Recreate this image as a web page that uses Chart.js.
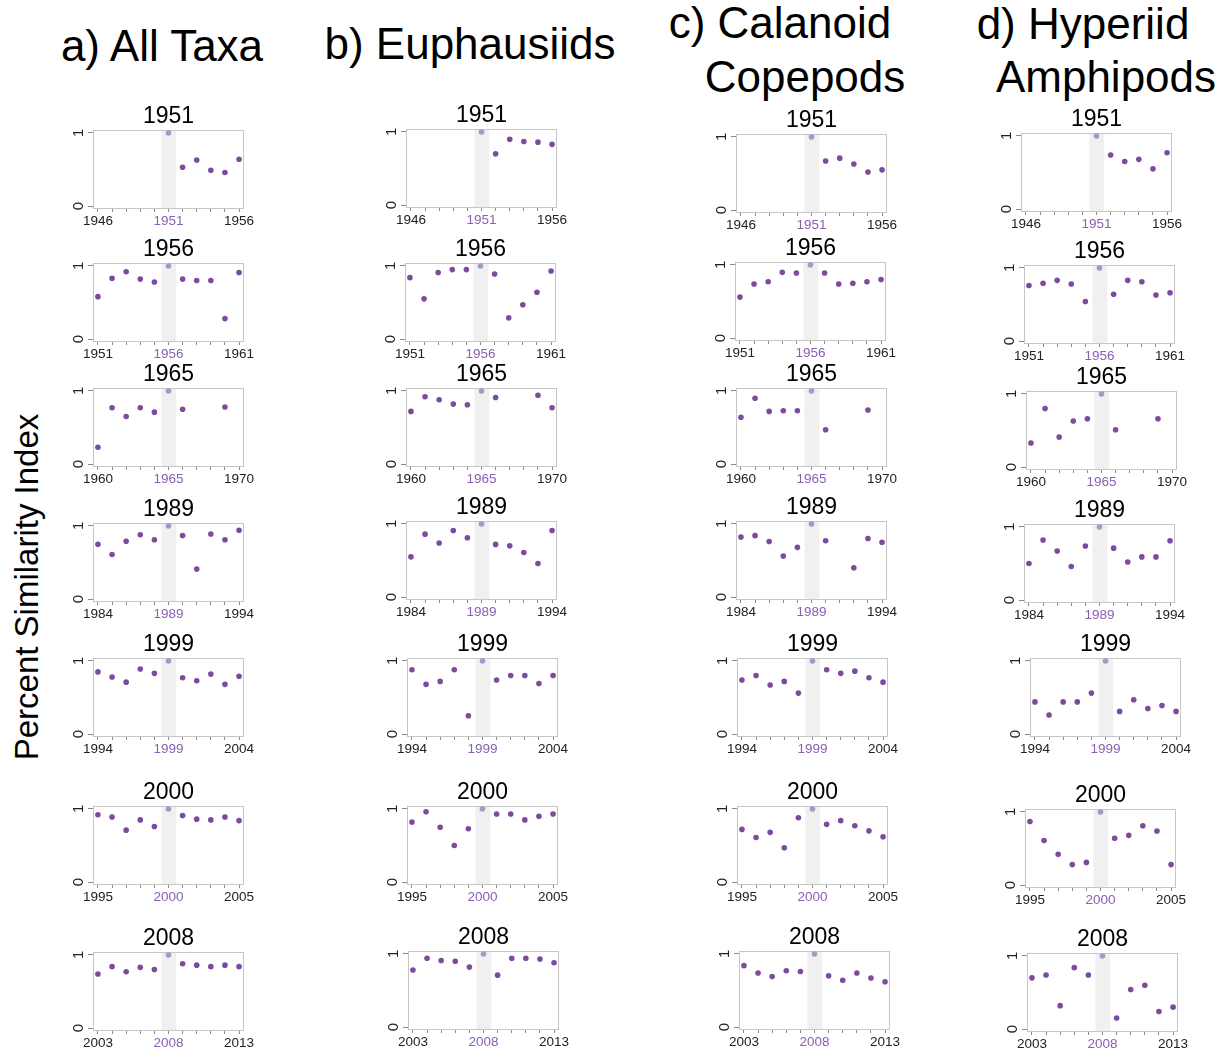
<!DOCTYPE html>
<html>
<head>
<meta charset="utf-8">
<script src="https://cdn.jsdelivr.net/npm/chart.js@4/dist/chart.umd.min.js"></script>
<style>
  body { margin: 0; background: #fff; font-family: "Liberation Sans", Arial, sans-serif; }
  #page { position: relative; width: 1228px; height: 1055px; overflow: hidden; }
  .head { position: absolute; font-size: 44px; line-height: 44px; color: #000; white-space: nowrap; transform: translateX(-50%); }
  #ylab { position: absolute; left: 27px; top: 587px; font-size: 33px; white-space: nowrap; transform: translate(-50%, -50%) rotate(-90deg); }
  canvas { position: absolute; }
</style>
</head>
<body>
<div id="page">
  <div class="head" style="left:162px; top:24px">a) All Taxa</div>
  <div class="head" style="left:470px; top:22px">b) Euphausiids</div>
  <div class="head" style="left:780px; top:1px">c) Calanoid</div>
  <div class="head" style="left:805px; top:55px">Copepods</div>
  <div class="head" style="left:1083px; top:2px">d) Hyperiid</div>
  <div class="head" style="left:1106px; top:55px">Amphipods</div>
  <div id="ylab">Percent Similarity Index</div>
</div>
<script>
// reference years (one row of panels each), every panel covers year-5 .. year+5
const refYears = [1951, 1956, 1965, 1989, 1999, 2000, 2008];
const offsets = [-5, -4, -3, -2, -1, 0, 1, 2, 3, 4, 5];
const n = null;

const allTaxa = [
  [n, n, n, n, n, 1, 0.53, 0.63, 0.49, 0.46, 0.64],
  [0.58, 0.83, 0.92, 0.82, 0.78, 1, 0.82, 0.80, 0.80, 0.28, 0.91],
  [0.23, 0.77, 0.65, 0.77, 0.71, 1, 0.75, n, n, 0.78, n],
  [0.75, 0.61, 0.79, 0.88, 0.81, 1, 0.87, 0.41, 0.89, 0.81, 0.94],
  [0.85, 0.78, 0.71, 0.89, 0.83, 1, 0.77, 0.73, 0.82, 0.68, 0.79],
  [0.92, 0.89, 0.71, 0.85, 0.76, 1, 0.91, 0.86, 0.85, 0.89, 0.84],
  [0.74, 0.84, 0.77, 0.83, 0.80, 1, 0.88, 0.86, 0.84, 0.86, 0.84]
];
const euphausiids = [
  [n, n, n, n, n, 1, 0.70, 0.90, 0.87, 0.86, 0.83],
  [0.84, 0.55, 0.91, 0.95, 0.95, 1, 0.89, 0.29, 0.47, 0.64, 0.93],
  [0.72, 0.92, 0.88, 0.82, 0.81, 1, 0.91, n, n, 0.94, 0.77],
  [0.55, 0.86, 0.74, 0.91, 0.81, 1, 0.72, 0.70, 0.61, 0.46, 0.91],
  [0.88, 0.68, 0.72, 0.88, 0.25, 1, 0.74, 0.80, 0.80, 0.69, 0.80],
  [0.82, 0.96, 0.75, 0.50, 0.73, 1, 0.93, 0.93, 0.85, 0.90, 0.93],
  [0.78, 0.94, 0.91, 0.90, 0.82, 1, 0.71, 0.94, 0.94, 0.93, 0.88]
];
const calanoids = [
  [n, n, n, n, n, 1, 0.67, 0.71, 0.63, 0.52, 0.55],
  [0.56, 0.74, 0.77, 0.90, 0.89, 1, 0.89, 0.74, 0.75, 0.77, 0.80],
  [0.64, 0.90, 0.72, 0.73, 0.73, 1, 0.47, n, n, 0.74, n],
  [0.82, 0.84, 0.76, 0.56, 0.68, 1, 0.77, n, 0.40, 0.80, 0.75],
  [0.74, 0.80, 0.67, 0.72, 0.56, 1, 0.88, 0.83, 0.86, 0.77, 0.71],
  [0.72, 0.61, 0.68, 0.47, 0.88, 1, 0.79, 0.84, 0.77, 0.70, 0.62],
  [0.84, 0.74, 0.69, 0.77, 0.76, 1, 0.70, 0.64, 0.74, 0.67, 0.62]
];
const hyperiids = [
  [n, n, n, n, n, 1, 0.74, 0.65, 0.68, 0.55, 0.77],
  [0.76, 0.79, 0.83, 0.78, 0.54, 1, 0.64, 0.83, 0.81, 0.63, 0.66],
  [0.33, 0.80, 0.41, 0.63, 0.66, 1, 0.51, n, n, 0.66, n],
  [0.50, 0.82, 0.67, 0.46, 0.74, 1, 0.71, 0.52, 0.59, 0.59, 0.81],
  [0.44, 0.26, 0.44, 0.44, 0.56, 1, 0.31, 0.47, 0.35, 0.39, 0.31],
  [0.87, 0.61, 0.42, 0.28, 0.31, 1, 0.64, 0.68, 0.81, 0.74, 0.28],
  [0.70, 0.74, 0.32, 0.84, 0.74, 1, 0.15, 0.54, 0.60, 0.24, 0.30]
];
const columns = [allTaxa, euphausiids, calanoids, hyperiids];

// layout: pixel x of first year tick, pixel y of the "1" tick
const firstTickX = [
  [98, 98, 98, 98, 98, 98, 98],
  [411, 410, 411, 411, 412, 412, 413],
  [741, 740, 741, 741, 742, 742, 744],
  [1026, 1029, 1031, 1029, 1035, 1030, 1032]
];
const oneTickY = [
  [133, 266, 391, 526, 661, 809, 955],
  [132, 266, 391, 524, 661, 809, 954],
  [137, 265, 391, 524, 661, 809, 954],
  [136, 268, 394, 527, 661, 812, 956]
];

const DOT = '#7b4b9e';
const DOT_REF = '#a896c6';
const REF_LABEL = '#8b5fb3';
const FONT = '"Liberation Sans", Arial, sans-serif';
const BOX_W = 151, BOX_H = 79, XPAD = 0.35, YPAD = 0.04;
const ML = 30, MR = 30, MT = 33, MB = 24;

const panelDeco = {
  id: 'panelDeco',
  beforeDatasetsDraw(chart) {
    const { ctx, chartArea: a, scales } = chart;
    const c = chart.options.refYear;
    const x1 = scales.x.getPixelForValue(c - 0.5);
    const x2 = scales.x.getPixelForValue(c + 0.55);
    ctx.save();
    ctx.fillStyle = '#f0f0f0';
    ctx.fillRect(x1, a.top, x2 - x1, a.bottom - a.top);
    ctx.strokeStyle = '#c6c6c6';
    ctx.lineWidth = 1;
    ctx.strokeRect(Math.round(a.left) + 0.5, Math.round(a.top) + 0.5,
      Math.round(a.right - a.left) - 1, Math.round(a.bottom - a.top) - 1);
    ctx.restore();
  },
  afterDraw(chart) {
    const { ctx, chartArea: a, scales } = chart;
    ctx.save();
    ctx.fillStyle = '#222';
    ctx.font = '15px ' + FONT;
    ctx.textAlign = 'center';
    ctx.textBaseline = 'middle';
    [0, 1].forEach(v => {
      ctx.save();
      ctx.translate(a.left - 14, scales.y.getPixelForValue(v));
      ctx.rotate(-Math.PI / 2);
      ctx.fillText(String(v), 0, 0);
      ctx.restore();
    });
    ctx.restore();
  }
};

const page = document.getElementById('page');

columns.forEach((col, ci) => {
  col.forEach((vals, ri) => {
    const c = refYears[ri];
    const years = offsets.map(o => c + o);
    const pts = [];
    years.forEach((yr, k) => {
      if (vals[k] !== null) pts.push({ x: yr, y: vals[k] });
    });
    const colors = pts.map(p => p.x === c ? DOT_REF : DOT);

    const pxYear = BOX_W / (10 + 2 * XPAD);
    const boxLeft = firstTickX[ci][ri] - XPAD * pxYear;
    const boxTop = oneTickY[ci][ri] - YPAD * BOX_H / (1 + 2 * YPAD);

    const cv = document.createElement('canvas');
    cv.width = BOX_W + ML + MR;
    cv.height = BOX_H + MT + MB;
    cv.style.left = Math.round(boxLeft - ML) + 'px';
    cv.style.top = Math.round(boxTop - MT) + 'px';
    page.appendChild(cv);

    new Chart(cv, {
      type: 'scatter',
      data: {
        datasets: [{
          data: pts,
          pointRadius: 2.8,
          pointHoverRadius: 2.8,
          pointBorderWidth: 0,
          pointBackgroundColor: colors
        }]
      },
      options: {
        refYear: c,
        responsive: false,
        animation: false,
        events: [],
        layout: { padding: { left: 0, right: MR, top: 0, bottom: 0 } },
        plugins: {
          legend: { display: false },
          tooltip: { enabled: false },
          title: {
            display: true,
            text: String(c),
            fullSize: false,
            color: '#000',
            font: { family: FONT, size: 23, weight: 'normal', lineHeight: 1 },
            padding: { top: 8, bottom: 2 }
          }
        },
        scales: {
          x: {
            type: 'linear',
            min: c - 5 - XPAD,
            max: c + 5 + XPAD,
            afterBuildTicks: s => { s.ticks = years.map(v => ({ value: v })); },
            afterFit: s => { s.height = MB; },
            border: { display: false },
            grid: { drawOnChartArea: false, drawTicks: true, tickLength: 3, color: '#8a8a8a' },
            ticks: {
              autoSkip: false,
              maxRotation: 0,
              minRotation: 0,
              padding: 1,
              font: { family: FONT, size: 13.5 },
              color: ctx => ctx.tick && ctx.tick.value === c ? REF_LABEL : '#222',
              callback: v => (v === c - 5 || v === c || v === c + 5) ? String(v) : ''
            }
          },
          y: {
            min: -YPAD,
            max: 1 + YPAD,
            afterBuildTicks: s => { s.ticks = [{ value: 0 }, { value: 1 }]; },
            afterFit: s => { s.width = ML; },
            border: { display: false },
            grid: { drawOnChartArea: false, drawTicks: true, tickLength: 5, color: '#8a8a8a' },
            ticks: { callback: () => '' }
          }
        }
      },
      plugins: [panelDeco]
    });
  });
});
</script>
</body>
</html>
